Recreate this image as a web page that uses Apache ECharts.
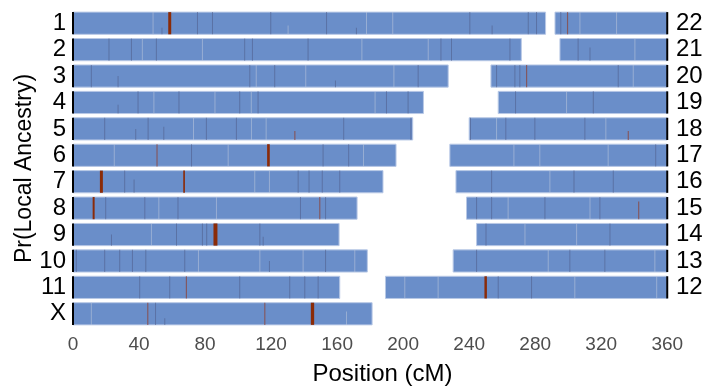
<!DOCTYPE html>
<html>
<head>
<meta charset="utf-8">
<script src="https://cdn.jsdelivr.net/npm/echarts@6/dist/echarts.min.js"></script>
<style>
  html, body { margin: 0; padding: 0; background: #fff; }
  #main { width: 717px; height: 388px; }
</style>
</head>
<body>
<div id="main"></div>
<script>
// chromosome names and genetic lengths (cM)
var chromNames   = ['1', '2', '3', '4', '5', '6', '7', '8', '9', '10', '11', '12',
                    '13', '14', '15', '16', '17', '18', '19', '20', '21', '22', 'X'];
var chromLengths = [286.3, 271.6, 227.3, 212.3, 205.8, 195.7, 187.8, 172.1, 161.2, 178.3, 161.6, 170.7,
                    129.7, 115.5, 121.6, 128.0, 131.7, 120.0, 102.4, 106.8, 65.0, 68.0, 181.2];

// rows: left column starts at 0, right column ends at 360
var leftChroms  = ['1', '2', '3', '4', '5', '6', '7', '8', '9', '10', '11', 'X'];
var rightChroms = ['22', '21', '20', '19', '18', '17', '16', '15', '14', '13', '12', ''];

var xTicks = [0, 40, 80, 120, 160, 200, 240, 280, 320, 360];

// strong second-ancestry segments: [chrom, position in chrom (cM), width (cM)]
var redBands = [
  ['1', 58.6, 1.8], ['6', 118.4, 1.6], ['7', 17.2, 1.8], ['7', 67.3, 1.0],
  ['8', 12.5, 1.2], ['9', 86.3, 2.4], ['X', 145.1, 2.0], ['12', 60.7, 1.5]
];
// weaker reddish spikes: [chrom, position, height fraction]
var brownStripes = [
  ['6', 50.9, 1], ['X', 45.3, 1], ['X', 116.2, 1], ['22', 7.6, 1], ['20', 21.6, 1],
  ['18', 96.4, 0.4], ['15', 104.3, 0.8], ['5', 134.4, 0.4], ['8', 149.5, 1], ['11', 68.7, 1]
];
// dark grey spikes: [chrom, position, height fraction]
var darkStripes = [
  ['1', 53.9, 0.3], ['1', 75.4, 1], ['1', 84.5, 1], ['1', 119.8, 1], ['1', 153.6, 1], ['1', 171.7, 0.3],
  ['1', 240.4, 1], ['1', 253.9, 0.4], ['1', 275.8, 1], ['1', 280.8, 1],
  ['2', 21.8, 1], ['2', 35.4, 1], ['2', 50.5, 1], ['2', 104.0, 1], ['2', 108.7, 1], ['2', 142.4, 1],
  ['2', 222.9, 1], ['2', 229.3, 1], ['2', 264.7, 1],
  ['3', 11.1, 1], ['3', 27.3, 0.5], ['3', 107.1, 1], ['3', 122.2, 1], ['3', 159, 0.3], ['3', 209.1, 1],
  ['4', 27.3, 0.4], ['4', 39.4, 1], ['4', 64.2, 1], ['4', 101.0, 1], ['4', 112.1, 1], ['4', 189.9, 1], ['4', 203, 1],
  ['5', 19.2, 1], ['5', 38, 0.5], ['5', 45.5, 1], ['5', 55, 0.6], ['5', 80.8, 1], ['5', 99.0, 1], ['5', 164, 1], ['5', 204.7, 1],
  ['6', 71.8, 1], ['6', 151.5, 1], ['6', 167, 1],
  ['7', 31.3, 1], ['7', 37, 0.6], ['7', 136.4, 1], ['7', 143, 1], ['7', 151, 1], ['7', 161.6, 1],
  ['8', 19.8, 1], ['8', 43.5, 1], ['8', 63.6, 1], ['8', 137.8, 1], ['8', 153, 1],
  ['9', 23.3, 0.5], ['9', 62.7, 1], ['9', 78.4, 1], ['9', 81, 1], ['9', 113.2, 1], ['9', 115.2, 0.4],
  ['10', 2.0, 1], ['10', 19.2, 1], ['10', 28.3, 1], ['10', 36, 1], ['10', 44.1, 1], ['10', 67.7, 1],
  ['10', 119, 0.5], ['10', 153, 1],
  ['11', 40.4, 1], ['11', 58.6, 1], ['11', 101.0, 1], ['11', 131.3, 1], ['11', 140.4, 1], ['11', 148.5, 1],
  ['X', 50, 1], ['X', 55.6, 0.3],
  ['22', 3.5, 1], ['21', 11.0, 1], ['21', 18.2, 0.6],
  ['20', 3.4, 1], ['20', 14.5, 1], ['20', 17.5, 1], ['20', 77.1, 1],
  ['19', 10.5, 1], ['19', 57.6, 1],
  ['18', 0.8, 1], ['18', 22.2, 1], ['18', 39.8, 1], ['18', 70.1, 1],
  ['17', 124.7, 1],
  ['16', 21.6, 1], ['16', 71.5, 1], ['16', 95.3, 1],
  ['15', 6.1, 1], ['15', 15.2, 1], ['15', 47.5, 1], ['15', 80.8, 1],
  ['14', 5.7, 1], ['14', 80.8, 1],
  ['13', 14.2, 1], ['13', 70.7, 1], ['13', 91.9, 1],
  ['12', 68.3, 1], ['12', 88.5, 1]
];
// pale grey spikes: [chrom, position, height fraction]
var lightStripes = [
  ['1', 48.5, 1], ['1', 130.3, 0.4], ['1', 177.8, 1], ['1', 193.7, 1],
  ['2', 42, 1], ['2', 78.4, 1], ['2', 175, 1], ['2', 215.2, 1],
  ['3', 111, 1], ['3', 141, 1], ['3', 194.4, 1],
  ['4', 49, 1], ['4', 86, 1], ['4', 108, 1], ['4', 183, 1],
  ['5', 73, 1], ['5', 108.1, 1], ['5', 117, 1],
  ['6', 25, 1], ['6', 94, 1], ['6', 176, 1],
  ['7', 110.1, 1], ['7', 119, 1],
  ['8', 52, 1], ['8', 86.9, 1],
  ['9', 47.5, 1],
  ['10', 76, 1], ['10', 113.2, 1], ['10', 139.4, 1], ['10', 170.7, 1],
  ['X', 11.1, 1], ['X', 165.7, 0.6],
  ['22', 15.1, 1], ['22', 37.3, 1], ['21', 45.4, 1], ['20', 86.2, 1], ['19', 41.4, 1],
  ['18', 16.6, 1], ['18', 82.8, 1], ['17', 38.8, 1], ['17', 54.5, 1], ['17', 95.9, 1],
  ['16', 56.9, 1], ['15', 25.2, 1], ['15', 74.8, 1], ['14', 29.3, 1], ['14', 60.6, 1],
  ['13', 57.6, 1], ['13', 122.2, 1], ['12', 11.7, 1], ['12', 31.9, 1], ['12', 114.7, 1], ['12', 164.3, 1]
];

var BLUE = '#6a8ec9';
var RED = '#8a2b08';
var BROWN = 'rgba(140, 70, 60, 0.75)';
var DARK = 'rgba(80, 95, 140, 0.6)';
var LIGHT = 'rgba(190, 200, 220, 0.55)';

function chromLen(name) {
  return chromLengths[chromNames.indexOf(name)];
}

// where a chromosome sits: row and x offset of its start
function placeOf(name) {
  var r = leftChroms.indexOf(name);
  if (r >= 0) return { row: r, offset: 0, side: 0 };
  r = rightChroms.indexOf(name);
  return { row: r, offset: 360 - chromLen(name), side: 1 };
}

var chromData = [];
chromNames.forEach(function (name) {
  var p = placeOf(name);
  chromData.push([p.row, p.offset, p.offset + chromLen(name), p.side]);
});

// stripe items: [row, x start, width, fraction] plus a colour
var stripeData = [];
function addStripes(list, colour, defWidth) {
  list.forEach(function (s) {
    var p = placeOf(s[0]);
    var w = defWidth || s[2];
    var frac = defWidth ? s[2] : 1;
    stripeData.push({ value: [p.row, p.offset + s[1] - w / 2, w, frac], colour: colour });
  });
}
addStripes(lightStripes, LIGHT, 0.6);
addStripes(darkStripes, DARK, 0.6);
addStripes(brownStripes, BROWN, 0.7);
addStripes(redBands, RED);

var BAR_FRAC = 0.84;

function renderChrom(params, api) {
  var row = api.value(0);
  var a = api.coord([api.value(1), row]);
  var b = api.coord([api.value(2), row]);
  var h = api.size([0, 1])[1] * BAR_FRAC;
  return {
    type: 'rect',
    shape: { x: a[0], y: a[1] - h / 2, width: b[0] - a[0], height: h },
    style: { fill: BLUE, stroke: '#b9c9e6', lineWidth: 1 }
  };
}

function renderStripe(params, api) {
  var row = api.value(0);
  var a = api.coord([api.value(1), row]);
  var b = api.coord([api.value(1) + api.value(2), row]);
  var h = api.size([0, 1])[1] * BAR_FRAC;
  var hh = h * api.value(3);
  var w = Math.max(1, b[0] - a[0]);
  return {
    type: 'rect',
    shape: { x: a[0], y: a[1] + h / 2 - hh, width: w, height: hh },
    style: { fill: stripeData[params.dataIndex].colour }
  };
}

function renderEdge(params, api) {
  var row = api.value(0);
  var side = api.value(3);
  var p = api.coord([side === 0 ? api.value(1) : api.value(2), row]);
  var h = api.size([0, 1])[1] * BAR_FRAC;
  return {
    type: 'rect',
    shape: { x: p[0] - 1, y: p[1] - h / 2, width: 2, height: h },
    style: { fill: '#000' }
  };
}

var chart = echarts.init(document.getElementById('main'), null, { renderer: 'canvas' });

var option = {
  animation: false,
  textStyle: { fontFamily: 'Liberation Sans, Arial, sans-serif' },
  grid: { left: 73, right: 25, top: 10, bottom: 61, outerBoundsMode: 'none', containLabel: false },
  xAxis: {
    type: 'value',
    min: 0,
    max: 375,
    name: 'Position (cM)',
    nameLocation: 'middle',
    nameGap: 35,
    nameMoveOverlap: false,
    nameTextStyle: { fontSize: 24, color: '#000' },
    splitLine: { show: false },
    axisLine: { lineStyle: { color: '#000', width: 1.5 } },
    axisTick: { customValues: xTicks, length: 5, lineStyle: { color: '#000', width: 1.2 } },
    axisLabel: { customValues: xTicks, fontSize: 19, color: '#4d4d4d', margin: 8 }
  },
  yAxis: [{
    type: 'category',
    inverse: true,
    data: leftChroms,
    name: 'Pr(Local Ancestry)',
    nameLocation: 'middle',
    nameGap: 37,
    nameMoveOverlap: false,
    nameTextStyle: { fontSize: 23, color: '#000' },
    axisLine: { show: false },
    axisTick: { show: false },
    splitLine: { show: false },
    axisLabel: { interval: 0, fontSize: 24, color: '#000', margin: 7 }
  }, {
    type: 'category',
    inverse: true,
    position: 'right',
    offset: -24,
    data: rightChroms,
    axisLine: { show: false },
    axisTick: { show: false },
    splitLine: { show: false },
    axisLabel: { interval: 0, fontSize: 24, color: '#000', margin: 8 }
  }],
  series: [{
    type: 'custom',
    renderItem: renderChrom,
    data: chromData,
    encode: { x: [1, 2], y: 0 },
    silent: true
  }, {
    type: 'custom',
    renderItem: renderStripe,
    data: stripeData.map(function (d) { return d.value; }),
    encode: { x: 1, y: 0 },
    silent: true
  }, {
    type: 'custom',
    renderItem: renderEdge,
    data: chromData.filter(function (d) { return d[0] < 12 && !(d[3] === 1 && d[0] === 11); }),
    encode: { x: [1, 2], y: 0 },
    silent: true
  }]
};

chart.setOption(option);
</script>
</body>
</html>
